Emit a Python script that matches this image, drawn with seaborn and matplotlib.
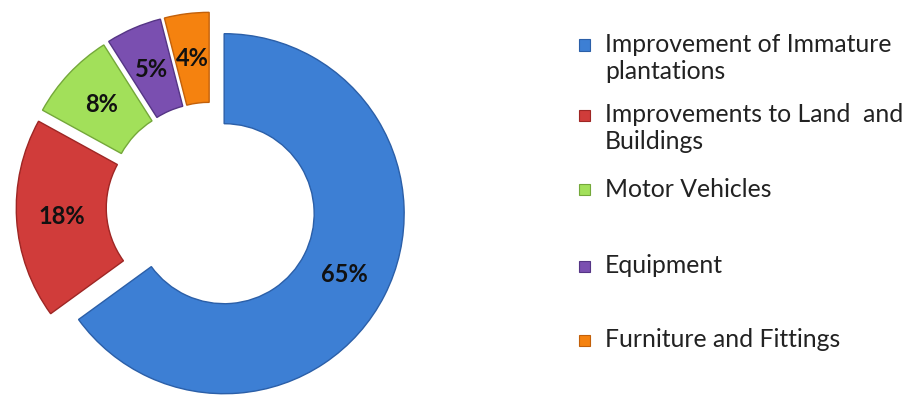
import matplotlib
matplotlib.use("Agg")
import matplotlib.pyplot as plt
import seaborn as sns

sns.set_theme(style="white")
plt.rcParams['font.family'] = ['Lato', 'DejaVu Sans']

categories = ["Improvement of Immature\nplantations",
              "Improvements to Land  and\nBuildings",
              "Motor Vehicles",
              "Equipment",
              "Furniture and Fittings"]
values = [65, 18, 8, 5, 4]
colors = ["#3d7fd4", "#d03c3a", "#a2e05a", "#7a4fb0", "#f5820f"]
edge_colors = ["#2b5fa8", "#9e2624", "#74a83a", "#553585", "#c2600a"]

fig = plt.figure(figsize=(9.06, 3.96), dpi=100)
ax = fig.add_axes([0, 0, 1, 1])

wedges, texts, autotexts = ax.pie(
    values, colors=colors, startangle=90, counterclock=False,
    explode=[0.082] * len(values), radius=1.0,
    wedgeprops=dict(width=0.5, linewidth=1.0),
    autopct=lambda p: f"{p:.0f}%", pctdistance=0.75,
    textprops=dict(fontsize=17, fontweight="bold", color="#111111"))
for w, ec in zip(wedges, edge_colors):
    w.set_edgecolor(ec)

ax.set_xlim(-211 / 180, (906 - 211) / 180)
ax.set_ylim(-189 / 180, 207 / 180)
ax.axis("off")

# legend
leg_y = [45, 115, 190, 266, 340]
for lab, col, ec, y in zip(categories, colors, edge_colors, leg_y):
    yf = 1 - y / 396
    fig.patches.append(plt.Rectangle((579 / 906, yf - 5.5 / 396), 11 / 906, 11 / 396,
                                     transform=fig.transFigure, facecolor=col,
                                     edgecolor=ec, linewidth=0.8))
    fig.text(605 / 906, yf + 12 / 396, lab, fontsize=17.8, color="#222222",
             va="top", ha="left", linespacing=1.22)

fig.savefig("out.png", dpi=100)
